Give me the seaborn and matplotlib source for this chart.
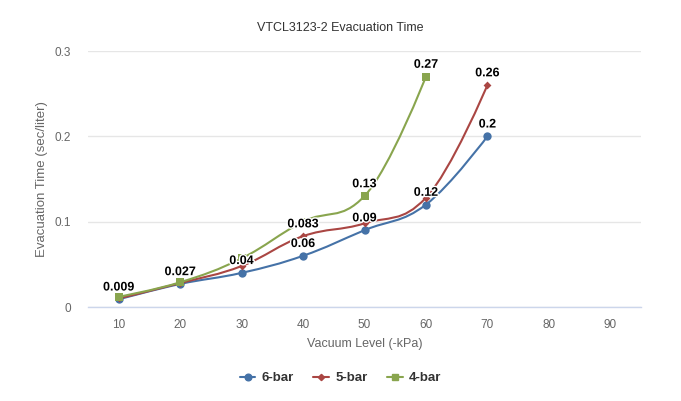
import matplotlib
matplotlib.use("Agg")
import matplotlib.pyplot as plt
import matplotlib.patheffects as pe
from matplotlib.path import Path
from matplotlib.patches import PathPatch
from matplotlib.lines import Line2D
import seaborn as sns
import pandas as pd

# data
vacuum_levels = [10, 20, 30, 40, 50, 60, 70, 80, 90]
series_names = ["6-bar", "5-bar", "4-bar"]
bar6_time = [0.009, 0.027, 0.040, 0.060, 0.090, 0.120, 0.200]
bar5_time = [0.010, 0.028, 0.048, 0.083, 0.098, 0.128, 0.260]
bar4_time = [0.012, 0.029, 0.057, 0.100, 0.130, 0.270]
# labels that are visible in the reference (others hidden by overlap)
bar6_labels = ["0.009", "0.027", "0.04", "0.06", "0.09", "0.12", "0.2"]
bar5_labels = [None, None, None, "0.083", None, None, "0.26"]
bar4_labels = [None, None, None, None, "0.13", "0.27"]

colors = {"6-bar": "#4572A7", "5-bar": "#AA4643", "4-bar": "#89A54E"}
markers = {"6-bar": "o", "5-bar": "D", "4-bar": "s"}
msizes = {"6-bar": 6, "5-bar": 4, "4-bar": 6}

rows = []
for name, vals, labs in [("6-bar", bar6_time, bar6_labels),
                         ("5-bar", bar5_time, bar5_labels),
                         ("4-bar", bar4_time, bar4_labels)]:
    for x, y, lab in zip(vacuum_levels, vals, labs):
        rows.append({"series": name, "vacuum": x, "time": y, "label": lab})
df = pd.DataFrame(rows)


def spline_path(xs, ys):
    # highcharts-like spline with smoothing 1.5
    sm = 1.5
    den = sm + 1
    n = len(xs)
    right = [None] * n
    left = [None] * n
    for i in range(n):
        x, y = xs[i], ys[i]
        if 0 < i < n - 1:
            lx, ly = xs[i - 1], ys[i - 1]
            nx, ny = xs[i + 1], ys[i + 1]
            lcx = (sm * x + lx) / den
            lcy = (sm * y + ly) / den
            rcx = (sm * x + nx) / den
            rcy = (sm * y + ny) / den
            corr = 0
            if rcx != lcx:
                corr = (rcy - lcy) * (rcx - x) / (rcx - lcx) + y - rcy
            lcy += corr
            rcy += corr
            if lcy > ly and lcy > y:
                lcy = max(ly, y)
                rcy = 2 * y - lcy
            elif lcy < ly and lcy < y:
                lcy = min(ly, y)
                rcy = 2 * y - lcy
            if rcy > ny and rcy > y:
                rcy = max(ny, y)
                lcy = 2 * y - rcy
            elif rcy < ny and rcy < y:
                rcy = min(ny, y)
                lcy = 2 * y - rcy
            left[i] = (lcx, lcy)
            right[i] = (rcx, rcy)
        else:
            left[i] = (x, y)
            right[i] = (x, y)
    verts = [(xs[0], ys[0])]
    codes = [Path.MOVETO]
    for i in range(1, n):
        verts += [right[i - 1], left[i], (xs[i], ys[i])]
        codes += [Path.CURVE4] * 3
    return Path(verts, codes)


sns.set_style("white")
plt.rcParams["font.family"] = ["Liberation Sans", "DejaVu Sans"]

fig = plt.figure(figsize=(6.81, 4.01), dpi=100)
ax = fig.add_axes([88 / 681, (401 - 307) / 401, (641 - 88) / 681, (307 - 51) / 401])

for name in series_names:
    sub = df[df["series"] == name]
    p = spline_path(list(sub["vacuum"]), list(sub["time"]))
    ax.add_patch(PathPatch(p, facecolor="none", edgecolor=colors[name], lw=1.5, zorder=3))

for name in series_names:
    sub = df[df["series"] == name]
    sns.scatterplot(data=sub, x="vacuum", y="time", marker=markers[name],
                    color=colors[name], s=msizes[name] ** 2, linewidth=0,
                    ax=ax, zorder=4, legend=False)

# data labels
for _, r in df.iterrows():
    if r["label"]:
        t = ax.annotate(r["label"], (r["vacuum"], r["time"]), xytext=(0, 8.5),
                        textcoords="offset points", ha="center", va="center",
                        fontsize=9, fontweight="bold", color="black", zorder=6)
        t.set_path_effects([pe.withStroke(linewidth=2, foreground="white")])

ax.set_xlim(5, 95)
ax.set_ylim(0, 0.3)
ax.set_xticks(vacuum_levels)
ax.set_xticklabels([str(v) for v in vacuum_levels])
ax.set_xticks([v - 5 for v in vacuum_levels] + [95], minor=True)
ax.set_yticks([0, 0.1, 0.2, 0.3])
ax.set_yticklabels(["0", "0.1", "0.2", "0.3"])
ax.tick_params(axis="x", which="major", length=0, pad=9, labelsize=8.5, labelcolor="#666666")
ax.tick_params(axis="x", which="minor", length=7, width=1, color="#ccd6eb", direction="out")
ax.tick_params(axis="y", length=0, pad=12, labelsize=8.5, labelcolor="#666666")
ax.yaxis.grid(True, color="#e6e6e6", lw=1)
ax.xaxis.grid(False)
for s in ["top", "right", "left"]:
    ax.spines[s].set_visible(False)
ax.spines["bottom"].set_color("#ccd6eb")
ax.spines["bottom"].set_linewidth(1)

ax.set_xlabel("Vacuum Level (-kPa)", fontsize=9, color="#666666", labelpad=5)
ax.set_ylabel("Evacuation Time (sec/liter)", fontsize=9.5, color="#666666", labelpad=5)
fig.text(0.5, 1 - 28 / 401, "VTCL3123-2 Evacuation Time", ha="center", va="center",
         fontsize=9, color="#333333")

handles = [Line2D([0], [0], color=colors[n], lw=1.5, marker=markers[n],
                  markersize=msizes[n] * 0.8) for n in series_names]
fig.legend(handles, series_names, loc="center", bbox_to_anchor=(0.5, 1 - 378 / 401),
           ncol=3, frameon=False, handlelength=1.2, columnspacing=1.5,
           handletextpad=0.45, prop={"size": 9.5, "weight": "bold"}, labelcolor="#333333")

fig.savefig("out.png", dpi=100)
